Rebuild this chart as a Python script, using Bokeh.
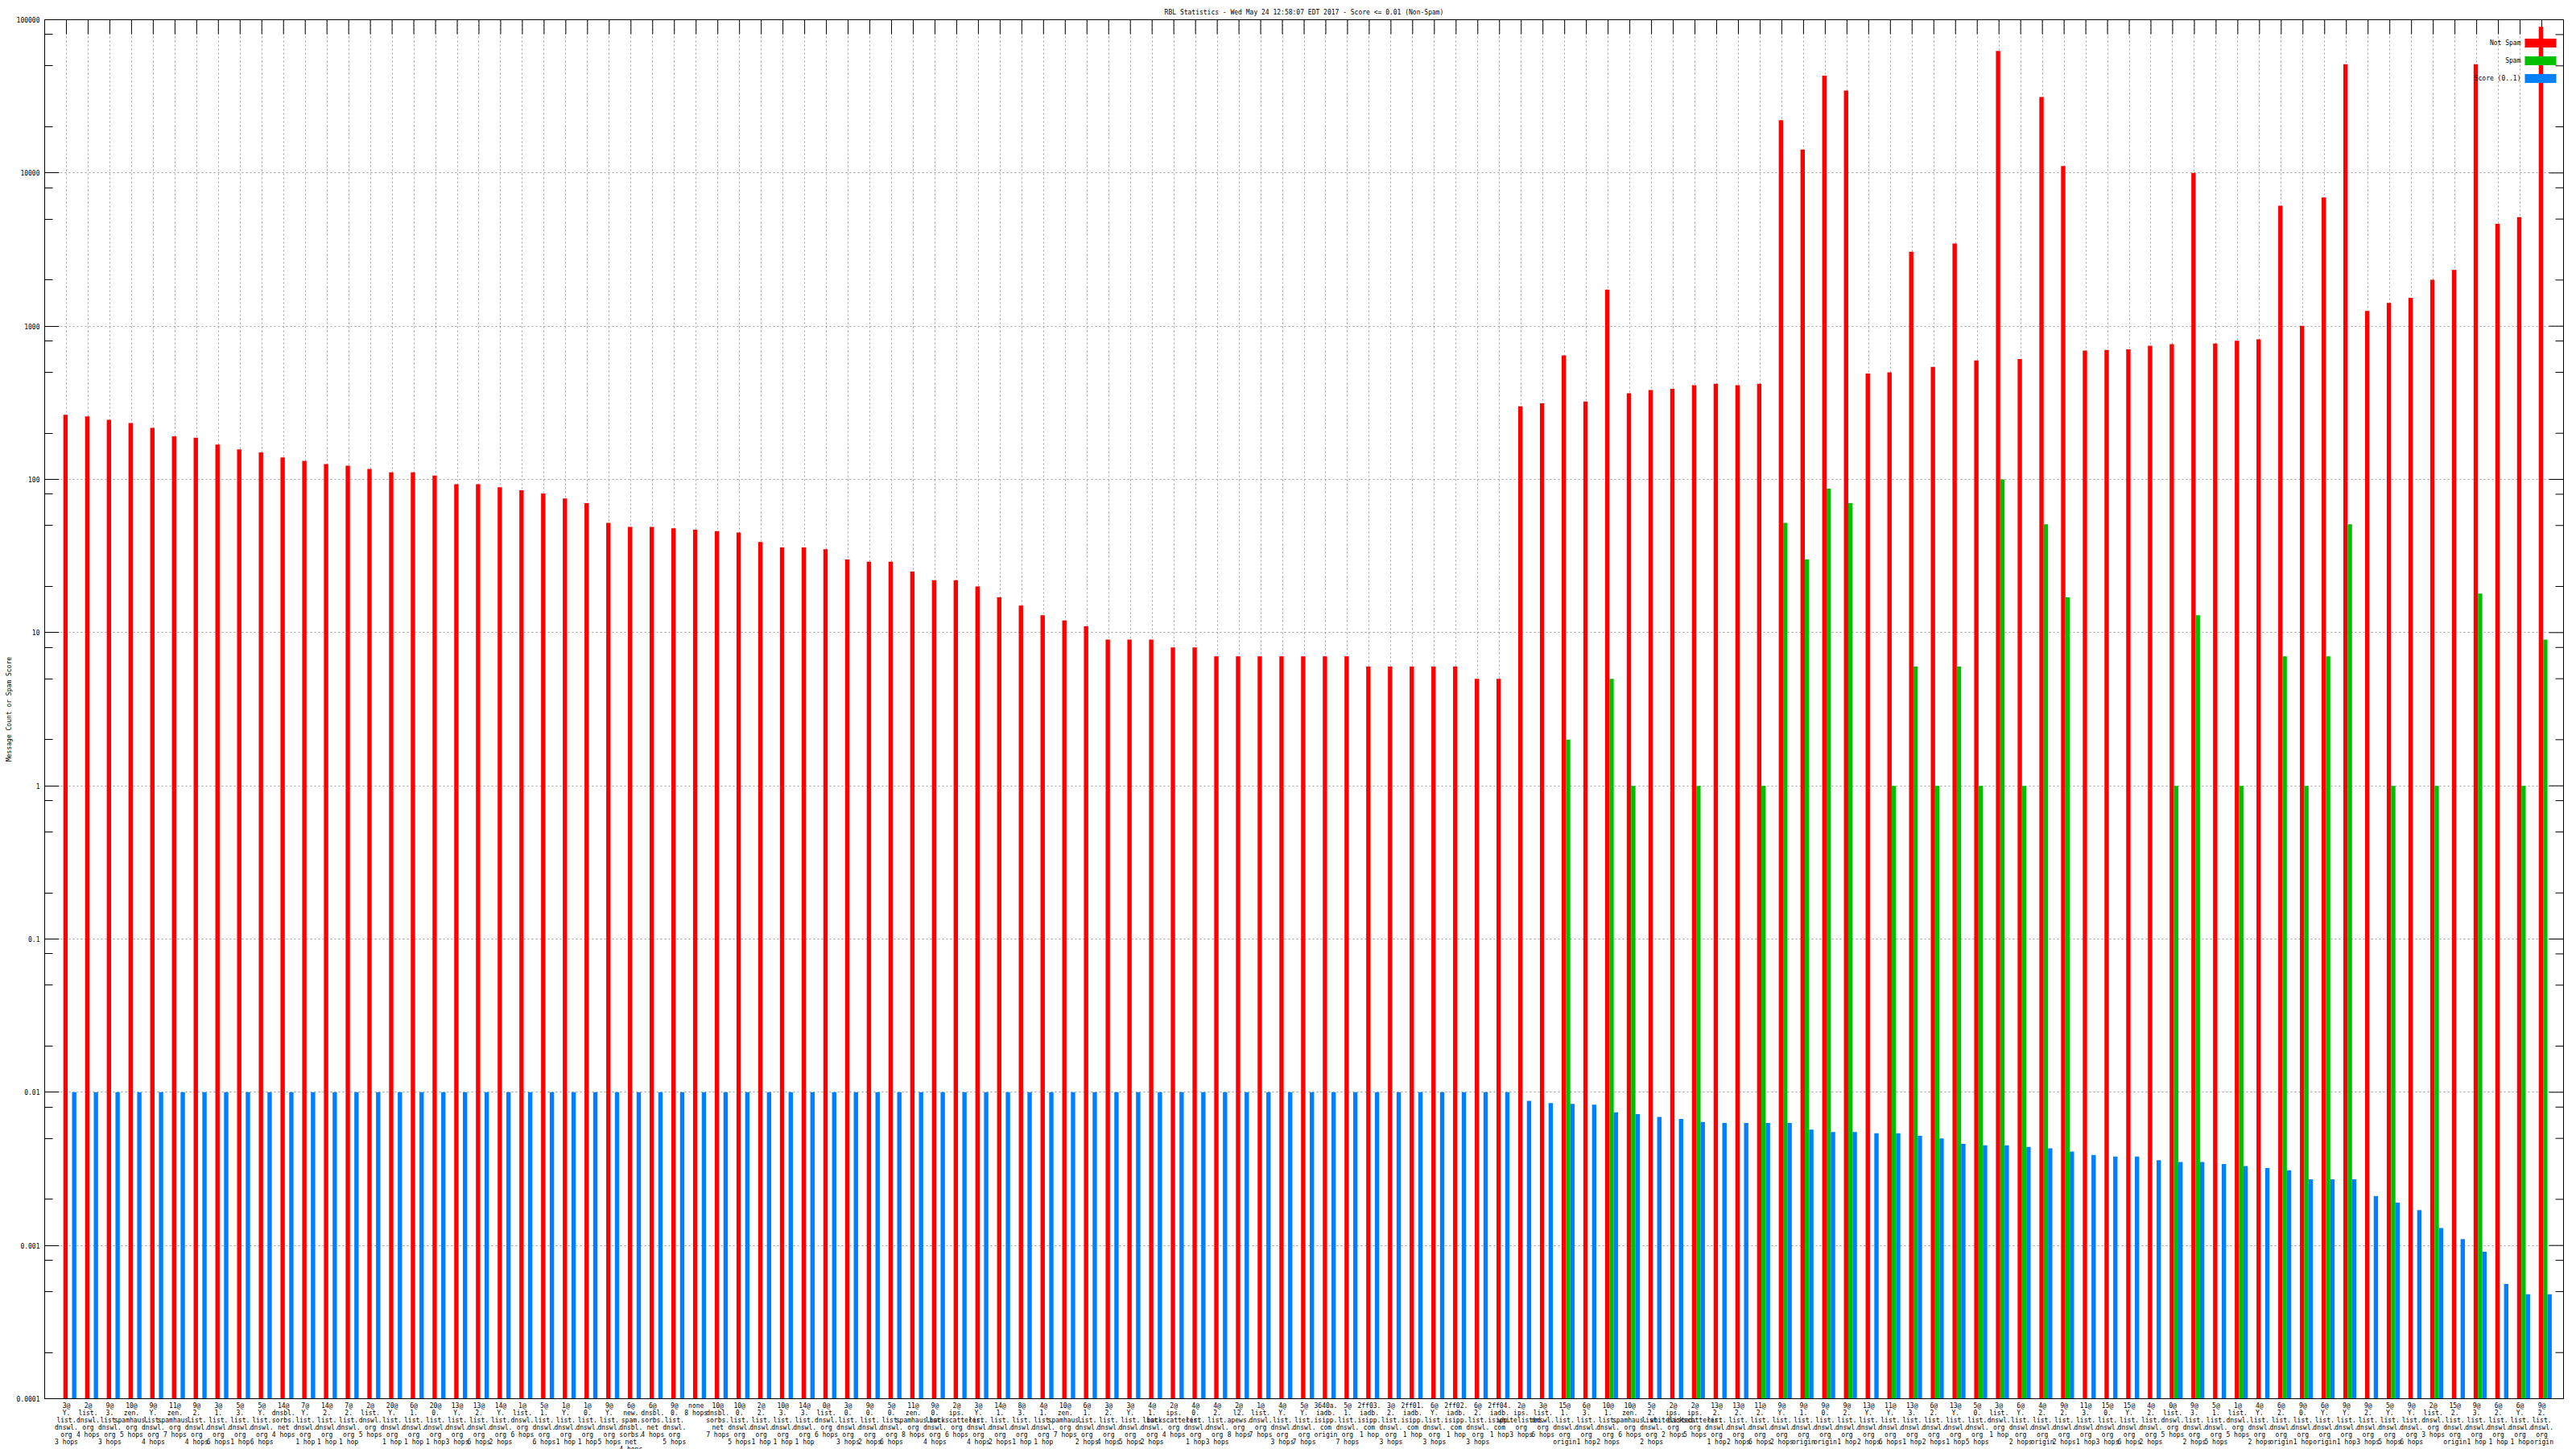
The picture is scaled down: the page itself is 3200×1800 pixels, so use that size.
import math
from bokeh.plotting import figure
from bokeh.models import (FixedTicker, PrintfTickFormatter, Range1d, ColumnDataSource, AllLabels)
from bokeh.transform import dodge
from bokeh.core.properties import value
from bokeh.embed import file_html
from bokeh.resources import INLINE

TITLE = "RBL Statistics - Wed May 24 12:58:07 EDT 2017 - Score <= 0.01 (Non-Spam)"
Y_LABEL = "Message Count or Spam Score"
SERIES = ["Not Spam", "Spam", "Score (0..1)"]

categories = [
    "3@Y.list.dnswl.org 3 hops", "2@list.dnswl.org 4 hops", "9@3.list.dnswl.org 3 hops",
    "10@zen.spamhaus.org 5 hops", "9@Y.list.dnswl.org 4 hops", "11@zen.spamhaus.org 7 hops",
    "9@2.list.dnswl.org 4 hops", "3@1.list.dnswl.org 6 hops", "5@3.list.dnswl.org 1 hop",
    "5@Y.list.dnswl.org 6 hops", "14@dnsbl.sorbs.net 4 hops", "7@Y.list.dnswl.org 1 hop",
    "14@2.list.dnswl.org 1 hop", "7@2.list.dnswl.org 1 hop", "2@list.dnswl.org 5 hops",
    "20@Y.list.dnswl.org 1 hop", "6@1.list.dnswl.org 1 hop", "20@0.list.dnswl.org 1 hop",
    "13@Y.list.dnswl.org 3 hops", "13@2.list.dnswl.org 6 hops", "14@Y.list.dnswl.org 2 hops",
    "1@list.dnswl.org 6 hops", "5@1.list.dnswl.org 6 hops", "1@Y.list.dnswl.org 1 hop",
    "1@0.list.dnswl.org 1 hop", "9@Y.list.dnswl.org 5 hops", "6@new.spam.dnsbl.sorbs.net 4 hops",
    "6@dnsbl.sorbs.net 4 hops", "9@0.list.dnswl.org 5 hops", "none 8 hops",
    "10@dnsbl.sorbs.net 7 hops", "10@0.list.dnswl.org 5 hops", "2@2.list.dnswl.org 1 hop",
    "10@3.list.dnswl.org 1 hop", "14@3.list.dnswl.org 1 hop", "0@list.dnswl.org 6 hops",
    "3@0.list.dnswl.org 3 hops", "9@0.list.dnswl.org 2 hops", "5@0.list.dnswl.org 6 hops",
    "11@zen.spamhaus.org 8 hops", "9@0.list.dnswl.org 4 hops", "2@ips.backscatterer.org 6 hops",
    "3@Y.list.dnswl.org 4 hops", "14@1.list.dnswl.org 2 hops", "8@3.list.dnswl.org 1 hop",
    "4@1.list.dnswl.org 1 hop", "10@zen.spamhaus.org 7 hops", "6@1.list.dnswl.org 2 hops",
    "3@2.list.dnswl.org 4 hops", "3@Y.list.dnswl.org 5 hops", "4@1.list.dnswl.org 2 hops",
    "2@ips.backscatterer.org 4 hops", "4@0.list.dnswl.org 1 hop", "4@2.list.dnswl.org 3 hops",
    "2@l2.apews.org 8 hops", "1@list.dnswl.org 7 hops", "4@Y.list.dnswl.org 3 hops",
    "5@Y.list.dnswl.org 7 hops", "3640a.iadb.isipp.com origin", "5@1.list.dnswl.org 7 hops",
    "2ff03.iadb.isipp.com 1 hop", "3@2.list.dnswl.org 3 hops", "2ff01.iadb.isipp.com 1 hop",
    "6@Y.list.dnswl.org 3 hops", "2ff02.iadb.isipp.com 1 hop", "6@2.list.dnswl.org 3 hops",
    "2ff04.iadb.isipp.com 1 hop", "2@ips.whitelisted.org 3 hops", "3@list.dnswl.org 6 hops",
    "15@1.list.dnswl.org origin", "6@3.list.dnswl.org 1 hop", "10@1.list.dnswl.org 2 hops",
    "10@zen.spamhaus.org 6 hops", "5@2.list.dnswl.org 2 hops", "2@ips.whitelisted.org 2 hops",
    "2@ips.backscatterer.org 5 hops", "13@2.list.dnswl.org 1 hop", "13@2.list.dnswl.org 2 hops",
    "11@2.list.dnswl.org 6 hops", "9@Y.list.dnswl.org 2 hops", "9@1.list.dnswl.org origin",
    "9@0.list.dnswl.org origin", "9@2.list.dnswl.org 1 hop", "13@Y.list.dnswl.org 2 hops",
    "11@Y.list.dnswl.org 6 hops", "13@3.list.dnswl.org 1 hop", "6@2.list.dnswl.org 2 hops",
    "13@Y.list.dnswl.org 1 hop", "5@0.list.dnswl.org 5 hops", "3@list.dnswl.org 1 hop",
    "6@Y.list.dnswl.org 2 hops", "4@2.list.dnswl.org origin", "9@2.list.dnswl.org 2 hops",
    "11@3.list.dnswl.org 1 hop", "15@0.list.dnswl.org 3 hops", "15@Y.list.dnswl.org 6 hops",
    "4@2.list.dnswl.org 2 hops", "0@list.dnswl.org 5 hops", "9@3.list.dnswl.org 2 hops",
    "5@1.list.dnswl.org 5 hops", "1@list.dnswl.org 5 hops", "4@Y.list.dnswl.org 2 hops",
    "6@2.list.dnswl.org origin", "9@0.list.dnswl.org 1 hop", "6@Y.list.dnswl.org origin",
    "9@Y.list.dnswl.org 1 hop", "9@2.list.dnswl.org 3 hops", "5@Y.list.dnswl.org 5 hops",
    "9@Y.list.dnswl.org 6 hops", "2@list.dnswl.org 3 hops", "15@2.list.dnswl.org origin",
    "9@3.list.dnswl.org 1 hop", "6@2.list.dnswl.org 1 hop", "6@Y.list.dnswl.org 1 hop",
    "9@2.list.dnswl.org origin",
]

not_spam = [
    264, 258, 245, 233, 217, 191, 187, 169, 157, 150,
    139, 132, 126, 123, 117, 111, 111, 106, 93, 93,
    89, 85, 81, 75, 70, 52, 49, 49, 48, 47,
    46, 45, 39, 36, 36, 35, 30, 29, 29, 25,
    22, 22, 20, 17, 15, 13, 12, 11, 9, 9,
    9, 8, 8, 7, 7, 7, 7, 7, 7, 7,
    6, 6, 6, 6, 6, 5, 5, 300, 314, 644,
    322, 1730, 365, 383, 390, 412, 420, 412, 420, 22100,
    14200, 43100, 34500, 491, 500, 3060, 542, 3460, 598, 62500,
    610, 31300, 11100, 693, 700, 706, 746, 763, 10000, 770,
    804, 820, 6110, 1005, 6920, 51300, 1256, 1420, 1530, 2010,
    2330, 51300, 4660, 5150, 90000,
]

spam = [0] * 69 + [
    2, 0, 5, 1, 0, 0, 1, 0, 0, 1,
    52, 30, 87, 70, 0, 1, 6, 1, 6, 1,
    100, 1, 51, 17, 0, 0, 0, 0, 1, 13,
    0, 1, 0, 7, 1, 7, 51, 0, 1, 0,
    1, 0, 18, 0, 1, 9,
]

score = [0.01] * 67 + [
    0.0088, 0.0085, 0.0084, 0.0083, 0.0074, 0.0072, 0.0069, 0.0067, 0.0064, 0.0063,
    0.0063, 0.0063, 0.0063, 0.0057, 0.0055, 0.0055, 0.0054, 0.0054, 0.0052, 0.0050,
    0.0046, 0.0045, 0.0045, 0.0044, 0.0043, 0.0041, 0.0039, 0.0038, 0.0038, 0.0036,
    0.0035, 0.0035, 0.0034, 0.0033, 0.0032, 0.0031, 0.0027, 0.0027, 0.0027, 0.0021,
    0.0019, 0.0017, 0.0013, 0.0011, 0.00091, 0.00056, 0.00048, 0.00048,
]

y_ticks = [0.0001, 0.001, 0.01, 0.1, 1, 10, 100, 1000, 10000, 100000]

COLORS = ["#ff0000", "#00c000", "#0080ff"]
FONT = "DejaVu Sans Mono"
FS = "8px"
GRID = "#a0a0a0"
INK = "black"


def fmt_label(s):
    host, hops = s.split(" ", 1)
    lines = []
    if "@" in host:
        n, host = host.split("@", 1)
        lines.append(n + "@")
    parts = host.split(".")
    lines += [q + "." for q in parts[:-1]] + [parts[-1]]
    lines.append(hops)
    return "\n".join(lines)


n = len(categories)
idx = list(range(n))
FRAME_W, FRAME_H = 3129, 1713

p = figure(frame_width=FRAME_W, frame_height=FRAME_H, y_axis_type="log",
           x_range=Range1d(-1, n), y_range=Range1d(y_ticks[0], y_ticks[-1]),
           output_backend="svg", toolbar_location=None,
           min_border_left=55, min_border_right=8, min_border_top=24, min_border_bottom=0,
           title=TITLE)

p.title.align = "center"
p.title.text_font = FONT
p.title.text_font_size = FS
p.title.text_font_style = "normal"
p.title.text_color = INK
p.title.standoff = 10
p.title.offset = 0

p.outline_line_color = INK
p.outline_line_width = 1
p.background_fill_color = "white"
p.border_fill_color = "white"

xt = FixedTicker(ticks=idx)
minor = []
for d in y_ticks[:-1]:
    minor += [2 * d, 5 * d, 8 * d]
yt = FixedTicker(ticks=y_ticks, minor_ticks=minor)

# bottom axis
xa = p.xaxis[0]
xa.ticker = xt
xa.major_label_overrides = {i: fmt_label(c) for i, c in enumerate(categories)}
xa.major_label_policy = AllLabels()
xa.major_label_text_font = FONT
xa.major_label_text_font_size = FS
xa.major_label_text_color = INK
xa.major_label_text_line_height = 1.0
xa.major_label_standoff = 4
xa.major_tick_in = 0
xa.major_tick_out = 0
xa.minor_tick_in = 0
xa.minor_tick_out = 0
xa.axis_line_color = INK

# left axis
ya = p.yaxis[0]
ya.ticker = yt
ya.formatter = PrintfTickFormatter(format="%g")
ya.major_label_text_font = FONT
ya.major_label_text_font_size = FS
ya.major_label_text_color = INK
ya.major_label_standoff = 6
ya.major_tick_in = 18
ya.major_tick_out = 0
ya.minor_tick_in = 10
ya.minor_tick_out = 0
ya.major_tick_line_color = INK
ya.minor_tick_line_color = INK
ya.axis_line_color = INK
ya.axis_label = Y_LABEL
ya.axis_label_text_font = FONT
ya.axis_label_text_font_size = FS
ya.axis_label_text_font_style = "normal"
ya.axis_label_text_color = INK
ya.axis_label_standoff = 2

p.xgrid.ticker = xt
p.ygrid.ticker = FixedTicker(ticks=y_ticks)
for g in (p.xgrid, p.ygrid):
    g.grid_line_color = GRID
    g.grid_line_dash = "2 3"
    g.grid_line_width = 1

# frame pixel -> data helpers (for mirror ticks and legend placement)
x0, x1 = -1, n
ly0, ly1 = math.log10(y_ticks[0]), math.log10(y_ticks[-1])


def fx(px):
    return x0 + (x1 - x0) * px / FRAME_W


def fy(py):
    return 10 ** (ly1 - (ly1 - ly0) * py / FRAME_H)


# mirrored tick marks on the top and right borders (gnuplot style)
p.segment(x0=idx, x1=idx, y0=[y_ticks[-1]] * n, y1=[fy(18)] * n,
          line_color=INK, line_width=1)
p.segment(x0=[fx(FRAME_W - 18)] * len(y_ticks), x1=[x1] * len(y_ticks),
          y0=y_ticks, y1=y_ticks, line_color=INK, line_width=1)
p.segment(x0=[fx(FRAME_W - 10)] * len(minor), x1=[x1] * len(minor),
          y0=minor, y1=minor, line_color=INK, line_width=1)

W = 0.2
OFFS = [-0.04, 0.16, 0.36]
BOTTOM = y_ticks[0]

src = ColumnDataSource(dict(x=idx, ns=not_spam, sc=score))
p.vbar(x=dodge("x", OFFS[0], range=p.x_range), top="ns", bottom=BOTTOM, width=W,
       source=src, fill_color=COLORS[0], line_color=None)
gx = [i for i in idx if spam[i] > 0]
gsrc = ColumnDataSource(dict(x=gx, sp=[spam[i] for i in gx]))
p.vbar(x=dodge("x", OFFS[1], range=p.x_range), top="sp", bottom=BOTTOM, width=W,
       source=gsrc, fill_color=COLORS[1], line_color=None)
p.vbar(x=dodge("x", OFFS[2], range=p.x_range), top="sc", bottom=BOTTOM, width=W,
       source=src, fill_color=COLORS[2], line_color=None)

# legend (gnuplot-style: text left of the key)
rows_py = [29, 51, 73]
key_l, key_r = fx(3081), fx(3120)
for name, col, py in zip(SERIES, COLORS, rows_py):
    p.quad(left=[key_l], right=[key_r], top=[fy(py - 5.5)], bottom=[fy(py + 5.5)],
           fill_color=col, line_color=None)
    p.text(x=[fx(3076)], y=[fy(py)], text=[name], text_align="right",
           text_baseline="middle", text_font=value(FONT), text_font_size=FS,
           text_color=INK)

open("out.html", "w").write(file_html(p, INLINE))
